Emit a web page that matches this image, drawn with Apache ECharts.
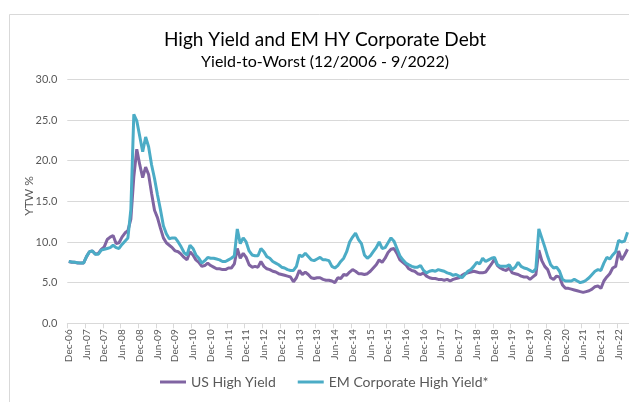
<!DOCTYPE html>
<html><head><meta charset="utf-8">
<script src="https://cdn.jsdelivr.net/npm/echarts@6/dist/echarts.min.js"></script>
<style>html,body{margin:0;padding:0;background:#fff}#c{width:629px;height:402px}</style>
</head><body><div id="c"></div>
<script>
const monthNames = ['Jan','Feb','Mar','Apr','May','Jun','Jul','Aug','Sep','Oct','Nov','Dec'];
const startYear = 2006;
const startMonthIndex = 11; // Dec-06
const yTicks = { min: 0, max: 30, interval: 5 };

const usHighYield = [
7.6,7.5,7.5,7.4,7.4,7.4,8.2,8.8,8.9,8.5,8.6,9.1,
9.4,10.3,10.6,10.8,9.8,9.9,10.6,11.1,11.4,12.8,18.0,21.4,
19.5,17.9,19.2,18.3,16.0,13.9,13.0,11.7,10.5,9.9,9.6,9.3,
8.9,8.8,8.5,8.1,7.8,8.8,8.4,7.8,7.5,7.0,7.1,7.4,
7.1,6.9,6.7,6.7,6.6,6.6,6.8,6.8,7.3,9.2,8.0,8.6,
8.1,7.2,6.9,7.0,6.9,7.6,7.0,6.7,6.6,6.4,6.3,6.1,
6.0,5.9,5.8,5.7,5.1,5.6,6.5,6.0,6.3,6.0,5.6,5.5,
5.6,5.6,5.4,5.3,5.3,5.2,5.0,5.6,5.5,6.0,5.9,6.3,
6.6,6.4,6.1,6.1,6.0,6.1,6.4,6.8,7.2,7.8,7.5,8.0,
8.7,9.1,9.2,8.6,7.8,7.5,7.2,6.7,6.5,6.4,6.1,6.0,
6.2,5.8,5.6,5.5,5.5,5.4,5.4,5.3,5.4,5.2,5.4,5.5,
5.6,5.9,6.1,6.2,6.3,6.4,6.3,6.2,6.2,6.3,6.8,7.3,
7.9,7.1,6.8,6.6,6.5,6.8,6.2,6.1,6.0,5.8,5.7,5.7,
5.4,5.7,6.0,9.0,7.7,7.0,6.6,5.6,5.4,5.8,5.7,4.7,
4.3,4.3,4.2,4.1,4.0,3.9,3.8,3.9,4.0,4.2,4.5,4.6,
4.3,5.2,5.7,6.1,6.8,7.0,8.9,7.8,8.4,9.1
];

const emCorpHighYield = [
7.6,7.55,7.5,7.45,7.4,7.4,8.2,8.8,8.9,8.5,8.5,9.0,
9.1,9.2,9.3,9.6,9.3,9.2,9.7,10.1,10.5,14.0,25.7,24.9,
23.0,21.1,22.9,21.7,19.5,17.8,15.8,14.0,12.0,11.0,10.4,10.5,
10.5,10.0,9.4,8.7,8.4,9.6,9.2,8.4,8.0,7.4,7.7,8.1,
8.0,8.0,7.9,7.8,7.6,7.6,7.8,8.0,8.3,11.6,9.8,10.5,
10.0,8.9,8.4,8.3,8.3,9.2,8.8,8.2,8.0,7.6,7.4,7.2,
6.9,6.8,6.6,6.5,6.5,7.0,8.4,8.2,8.6,8.2,7.8,7.7,
7.9,8.1,7.8,7.8,7.7,7.0,6.8,7.1,7.6,8.0,8.8,10.0,
10.6,11.1,10.3,9.8,8.4,8.0,8.3,8.8,9.3,10.0,9.2,9.3,
9.9,10.5,10.1,9.2,8.3,7.8,7.4,7.2,7.0,6.9,6.9,7.1,
6.5,6.2,6.4,6.5,6.4,6.6,6.5,6.4,6.2,6.1,5.9,6.0,
5.8,5.6,6.0,6.4,6.6,7.0,7.5,7.3,8.0,7.6,7.8,8.0,
8.1,7.2,7.0,7.0,7.0,7.2,6.6,6.9,7.5,7.0,6.8,6.7,
6.5,6.3,6.7,11.6,10.5,9.4,8.2,7.2,6.8,6.9,6.4,5.4,
5.2,5.2,5.2,5.4,5.2,5.0,5.1,5.3,5.6,6.0,6.4,6.6,
6.5,7.4,8.1,7.9,8.4,8.8,10.2,10.0,10.1,11.2
];

const categories = usHighYield.map(function (_, i) {
  const k = startMonthIndex + i;
  const m = k % 12;
  const y = startYear + Math.floor(k / 12);
  return monthNames[m] + '-' + String(y % 100).padStart(2, '0');
});

const FONT = 'Lato, "Liberation Sans", sans-serif';
const GREY = '#595959';
const chart = echarts.init(document.getElementById('c'), null, { renderer: 'canvas' });
chart.setOption({
  animation: false,
  backgroundColor: '#ffffff',
  graphic: [
    { type: 'rect', silent: true, z: -10,
      shape: { x: 9.5, y: 14.5, width: 700, height: 420 },
      style: { fill: 'none', stroke: '#D9D9D9', lineWidth: 1 } },
    { type: 'text', silent: true,
      style: { text: 'High Yield and EM HY Corporate Debt', x: 325, y: 40,
        textAlign: 'center', textVerticalAlign: 'middle',
        font: '19px ' + FONT, fill: '#000000' } },
    { type: 'text', silent: true,
      style: { text: 'Yield-to-Worst (12/2006 - 9/2022)', x: 325, y: 62,
        textAlign: 'center', textVerticalAlign: 'middle',
        font: '16px ' + FONT, fill: '#000000' } },
    { type: 'text', silent: true, x: 29, y: 196, rotation: Math.PI / 2,
      style: { text: 'YTW %', x: 0, y: 0,
        textAlign: 'center', textVerticalAlign: 'middle',
        font: '12px ' + FONT, fill: GREY } }
  ],
  legend: {
    left: 160, top: 375, padding: 0,
    icon: 'rect', itemWidth: 26, itemHeight: 3, itemGap: 22,
    textStyle: { fontFamily: FONT, fontSize: 14, color: GREY },
    data: ['US High Yield', 'EM Corporate High Yield*']
  },
  grid: { left: 67.3, top: 79.3, width: 563.7, height: 244, containLabel: false },
  xAxis: {
    type: 'category',
    data: categories,
    boundaryGap: true,
    axisLine: { lineStyle: { color: '#D9D9D9', width: 1 } },
    axisTick: { show: true, interval: 5, length: 5, lineStyle: { color: '#D9D9D9' } },
    axisLabel: { interval: 5, rotate: 90, fontFamily: FONT, fontSize: 10, color: GREY, margin: 6 },
    splitLine: { show: false }
  },
  yAxis: {
    type: 'value',
    min: yTicks.min, max: yTicks.max, interval: yTicks.interval,
    axisLine: { show: false },
    axisTick: { show: false },
    axisLabel: { formatter: function (v) { return v.toFixed(1); }, fontFamily: FONT, fontSize: 11, color: GREY, margin: 10 },
    splitLine: { lineStyle: { color: '#D9D9D9', width: 1 } }
  },
  series: [
    { name: 'US High Yield', type: 'line', data: usHighYield, showSymbol: false, symbol: 'none',
      lineStyle: { color: '#8064A2', width: 3 }, itemStyle: { color: '#8064A2' } },
    { name: 'EM Corporate High Yield*', type: 'line', data: emCorpHighYield, showSymbol: false, symbol: 'none',
      lineStyle: { color: '#4BACC6', width: 3 }, itemStyle: { color: '#4BACC6' } }
  ]
});
</script>
</body></html>
